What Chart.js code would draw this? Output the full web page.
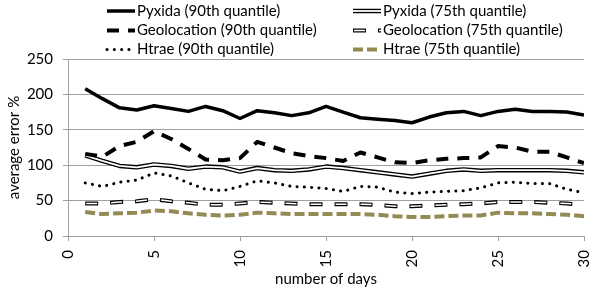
<!DOCTYPE html>
<html>
<head>
<meta charset="utf-8">
<script src="https://cdn.jsdelivr.net/npm/chart.js@4.4.1/dist/chart.umd.min.js"></script>
<style>
  body { margin: 0; background: #fff; }
</style>
</head>
<body>
<canvas id="error-chart" width="611" height="288"></canvas>
<script>
// values
var days = [1, 2, 3, 4, 5, 6, 7, 8, 9, 10, 11, 12, 13, 14, 15, 16, 17, 18, 19, 20, 21, 22, 23, 24, 25, 26, 27, 28, 29, 30];
var seriesNames = ['Pyxida (90th quantile)', 'Pyxida (75th quantile)',
                   'Geolocation (90th quantile)', 'Geolocation (75th quantile)',
                   'Htrae (90th quantile)', 'Htrae (75th quantile)'];
var pyxida90 = [208, 194, 181, 178, 184, 180, 176, 183, 177, 166, 177, 174, 170, 174, 183, 175, 167, 165, 163, 160, 168, 174, 176, 170, 176, 179, 176, 176, 175, 171];
var pyxida75 = [114, 106, 99, 97, 101, 99, 95, 98, 97, 91, 96, 93, 92, 94, 98, 96, 93, 90, 87, 84, 88, 92, 94, 92, 93, 93, 93, 93, 92, 90];
var geo90 = [116, 112, 127, 133, 148, 137, 123, 108, 107, 110, 133, 125, 117, 113, 110, 106, 118, 111, 104, 103, 107, 109, 110, 111, 127, 125, 119, 119, 111, 103];
var geo75 = [46, 46, 48, 49, 52, 49, 47, 44, 44, 46, 48, 47, 46, 45, 45, 45, 45, 44, 42, 42, 43, 44, 45, 46, 48, 48, 48, 47, 46, 44];
var htrae90 = [75, 70, 76, 79, 89, 85, 75, 66, 64, 70, 78, 75, 70, 69, 67, 63, 70, 69, 62, 60, 62, 63, 64, 68, 75, 76, 74, 74, 66, 61];
var htrae75 = [34, 31, 32, 33, 36, 35, 32, 30, 29, 30, 33, 32, 31, 31, 31, 31, 31, 30, 28, 27, 27, 28, 29, 29, 33, 32, 32, 31, 30, 28];
var xTicks = [0, 5, 10, 15, 20, 25, 30];
var yTicks = [0, 50, 100, 150, 200, 250];

var FONT = 'Lato, "Open Sans", sans-serif';
var GRID = '#a0a0a0';
var OLIVE = '#948a54';

function pts(arr) {
    return arr.map(function (v, i) { return {x: days[i], y: v}; });
}

function line(label, data, color, width, dash, extra) {
    var ds = {
        label: label,
        data: pts(data),
        borderColor: color,
        borderWidth: width,
        borderDash: dash || [],
        borderCapStyle: 'butt',
        borderJoinStyle: 'round',
        pointRadius: 0,
        tension: 0,
        fill: false
    };
    for (var k in extra) ds[k] = extra[k];
    return ds;
}

var datasets = [
    line(seriesNames[0], pyxida90, '#000', 3.5, [], {order: 10}),
    line(seriesNames[1], pyxida75, '#000', 4.5, [], {order: 9}),
    line(seriesNames[1], pyxida75, '#fff', 1.8, [], {order: 8.5, inner: true}),
    line(seriesNames[2], geo90, '#000', 4, [12, 9], {order: 8}),
    line(seriesNames[3], geo75, '#000', 4, [13, 12], {order: 7}),
    line(seriesNames[3], geo75, '#fff', 1.5, [11, 14], {order: 6.5, inner: true, borderDashOffset: -1}),
    line(seriesNames[4], htrae90, '#000', 3, [0.1, 7.2], {order: 6, borderCapStyle: 'round'}),
    line(seriesNames[5], htrae75, OLIVE, 4, [10, 4], {order: 5})
];

// legend in two columns like the spreadsheet one
var legendCols = [107, 353];
var legendRows = [11, 30.5, 49.5];

var twoColLegend = {
    id: 'twoColLegend',
    afterDraw: function (chart) {
        var ctx = chart.ctx;
        var main = chart.data.datasets.filter(function (d) { return !d.inner; });
        main.forEach(function (d, i) {
            var x = legendCols[i % 2];
            var y = legendRows[Math.floor(i / 2)];
            var parts = chart.data.datasets.filter(function (o) { return o.label === d.label; });
            parts.forEach(function (p) {
                ctx.save();
                ctx.strokeStyle = p.borderColor;
                ctx.lineWidth = p.borderWidth;
                ctx.setLineDash(p.borderDash);
                ctx.lineDashOffset = p.borderDashOffset || 0;
                ctx.lineCap = p.borderCapStyle;
                ctx.beginPath();
                ctx.moveTo(x, y);
                ctx.lineTo(x + 28, y);
                ctx.stroke();
                ctx.restore();
            });
            ctx.save();
            ctx.fillStyle = '#000';
            ctx.font = '15px ' + FONT;
            ctx.textBaseline = 'middle';
            ctx.fillText(d.label, x + 30, y);
            ctx.restore();
        });
    }
};

window.onload = function () {
    var ctx = document.getElementById('error-chart');
    new Chart(ctx, {
        type: 'line',
        data: {datasets: datasets},
        plugins: [twoColLegend],
        options: {
            responsive: false,
            animation: false,
            layout: {padding: {top: 59, right: 7, left: 0, bottom: 0}},
            plugins: {legend: {display: false}, tooltip: {enabled: false}},
            scales: {
                x: {
                    type: 'linear',
                    min: 0,
                    max: 30,
                    afterBuildTicks: function (s) { s.ticks = xTicks.map(function (v) { return {value: v}; }); },
                    afterFit: function (s) { s.height = 52; },
                    ticks: {minRotation: 90, maxRotation: 90, padding: 9, color: '#000', font: {family: FONT, size: 15}},
                    grid: {drawOnChartArea: false, tickLength: 5, color: GRID},
                    border: {color: GRID},
                    title: {display: true, text: 'number of days', color: '#000', padding: {top: 0, bottom: 0}, font: {family: FONT, size: 15}}
                },
                y: {
                    min: 0,
                    max: 250,
                    afterBuildTicks: function (s) { s.ticks = yTicks.map(function (v) { return {value: v}; }); },
                    afterFit: function (s) { s.width = 68; },
                    ticks: {padding: 10, color: '#000', font: {family: FONT, size: 15}},
                    grid: {tickLength: 5, color: GRID},
                    border: {color: GRID},
                    title: {display: true, text: 'average error %', color: '#000', padding: {top: 5, bottom: 4}, font: {family: FONT, size: 15}}
                }
            }
        }
    });
};
</script>
</body>
</html>
